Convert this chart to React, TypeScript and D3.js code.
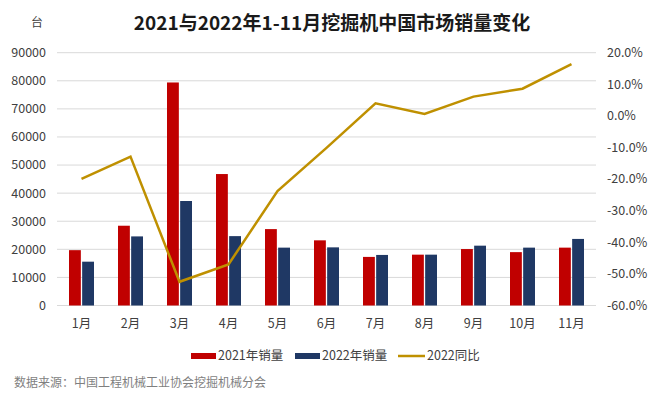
import React, { useEffect, useRef } from "react";
import * as d3 from "d3";

const months = ["1月", "2月", "3月", "4月", "5月", "6月", "7月", "8月", "9月", "10月", "11月"];
const sales2021 = [19700, 28400, 79400, 46800, 27200, 23200, 17300, 18100, 20100, 19000, 20600];
const sales2022 = [15600, 24600, 37200, 24700, 20600, 20700, 18000, 18100, 21300, 20600, 23700];
const yoy2022 = [-19.9, -12.9, -52.5, -47.0, -23.8, -10.1, 4.0, 0.6, 6.1, 8.6, 16.4];
const leftTicks = [0, 10000, 20000, 30000, 40000, 50000, 60000, 70000, 80000, 90000];
const rightTicks = [-60, -50, -40, -30, -20, -10, 0, 10, 20];

const FONT = "'Noto Sans CJK SC', 'Noto Sans', sans-serif";

function App() {
  const ref = useRef<SVGSVGElement>(null);

  useEffect(() => {
    const svg = d3.select(ref.current);
    svg.selectAll("*").remove();

    const left = 57, right = 596, top = 52.7, bottom = 305.5;

    const x = d3.scaleBand().domain(months).range([left, right]);
    const x1 = d3
      .scaleBand()
      .domain(["2021", "2022"])
      .range([x.bandwidth() / 2 - 12.5, x.bandwidth() / 2 + 12.5])
      .paddingInner(0.1);
    const y = d3.scaleLinear().domain([0, 90000]).range([bottom, top]);
    const y2 = d3.scaleLinear().domain([-60, 20]).range([bottom, top]);

    // title
    svg
      .append("text")
      .attr("x", 332)
      .attr("y", 30)
      .attr("text-anchor", "middle")
      .style("font-size", "19px")
      .style("font-weight", "bold")
      .style("fill", "#1a1a1a")
      .text("2021与2022年1-11月挖掘机中国市场销量变化");

    svg
      .append("text")
      .attr("x", 37)
      .attr("y", 27)
      .attr("text-anchor", "middle")
      .style("font-size", "12px")
      .style("fill", "#404040")
      .text("台");

    // grid
    svg
      .append("g")
      .selectAll("line")
      .data(leftTicks)
      .join("line")
      .attr("x1", left)
      .attr("x2", right)
      .attr("y1", (d) => y(d))
      .attr("y2", (d) => y(d))
      .attr("stroke", "#d9d9d9")
      .attr("stroke-width", 1);

    svg
      .append("g")
      .selectAll("text")
      .data(leftTicks)
      .join("text")
      .attr("x", 46)
      .attr("y", (d) => y(d))
      .attr("dy", "0.35em")
      .attr("text-anchor", "end")
      .style("font-size", "12.5px")
      .style("fill", "#404040")
      .text((d) => String(d));

    svg
      .append("g")
      .selectAll("text")
      .data(rightTicks)
      .join("text")
      .attr("x", 607)
      .attr("y", (d) => y2(d))
      .attr("dy", "0.35em")
      .attr("text-anchor", "start")
      .style("font-size", "12.5px")
      .style("fill", "#404040")
      .text((d) => d.toFixed(1) + "%");

    // bars
    const g = svg.append("g");
    g.selectAll(".b21")
      .data(sales2021)
      .join("rect")
      .attr("x", (d, i) => (x(months[i]) as number) + (x1("2021") as number))
      .attr("y", (d) => y(d))
      .attr("width", x1.bandwidth())
      .attr("height", (d) => bottom - y(d))
      .attr("fill", "#C00000");
    g.selectAll(".b22")
      .data(sales2022)
      .join("rect")
      .attr("x", (d, i) => (x(months[i]) as number) + (x1("2022") as number))
      .attr("y", (d) => y(d))
      .attr("width", x1.bandwidth())
      .attr("height", (d) => bottom - y(d))
      .attr("fill", "#1F3864");

    // line
    const line = d3
      .line<number>()
      .x((d, i) => (x(months[i]) as number) + x.bandwidth() / 2)
      .y((d) => y2(d));
    svg
      .append("path")
      .datum(yoy2022)
      .attr("d", line)
      .attr("fill", "none")
      .attr("stroke", "#BF9000")
      .attr("stroke-width", 2.5)
      .attr("stroke-linejoin", "miter");

    // month labels
    svg
      .append("g")
      .selectAll("text")
      .data(months)
      .join("text")
      .attr("x", (d) => (x(d) as number) + x.bandwidth() / 2)
      .attr("y", 328)
      .attr("text-anchor", "middle")
      .style("font-size", "12.5px")
      .style("fill", "#404040")
      .text((d) => d);

    // legend
    const legend = svg.append("g").style("font-size", "12.5px").style("fill", "#404040");
    legend.append("rect").attr("x", 191).attr("y", 353).attr("width", 25).attr("height", 6).attr("fill", "#C00000");
    legend.append("text").attr("x", 218).attr("y", 356).attr("dy", "0.35em").text("2021年销量");
    legend.append("rect").attr("x", 295).attr("y", 353).attr("width", 25).attr("height", 6).attr("fill", "#1F3864");
    legend.append("text").attr("x", 322).attr("y", 356).attr("dy", "0.35em").text("2022年销量");
    legend
      .append("line")
      .attr("x1", 398)
      .attr("x2", 425)
      .attr("y1", 356)
      .attr("y2", 356)
      .attr("stroke", "#BF9000")
      .attr("stroke-width", 2.5);
    legend.append("text").attr("x", 427).attr("y", 356).attr("dy", "0.35em").text("2022同比");

    // source
    svg
      .append("text")
      .attr("x", 14)
      .attr("y", 383)
      .attr("dy", "0.35em")
      .style("font-size", "12px")
      .style("fill", "#7f7f7f")
      .text("数据来源：中国工程机械工业协会挖掘机械分会");
  }, []);

  return (
    <svg
      ref={ref}
      width={661}
      height={395}
      style={{ position: "absolute", left: 0, top: 0, background: "#fff", fontFamily: FONT }}
    />
  );
}

export default App;
